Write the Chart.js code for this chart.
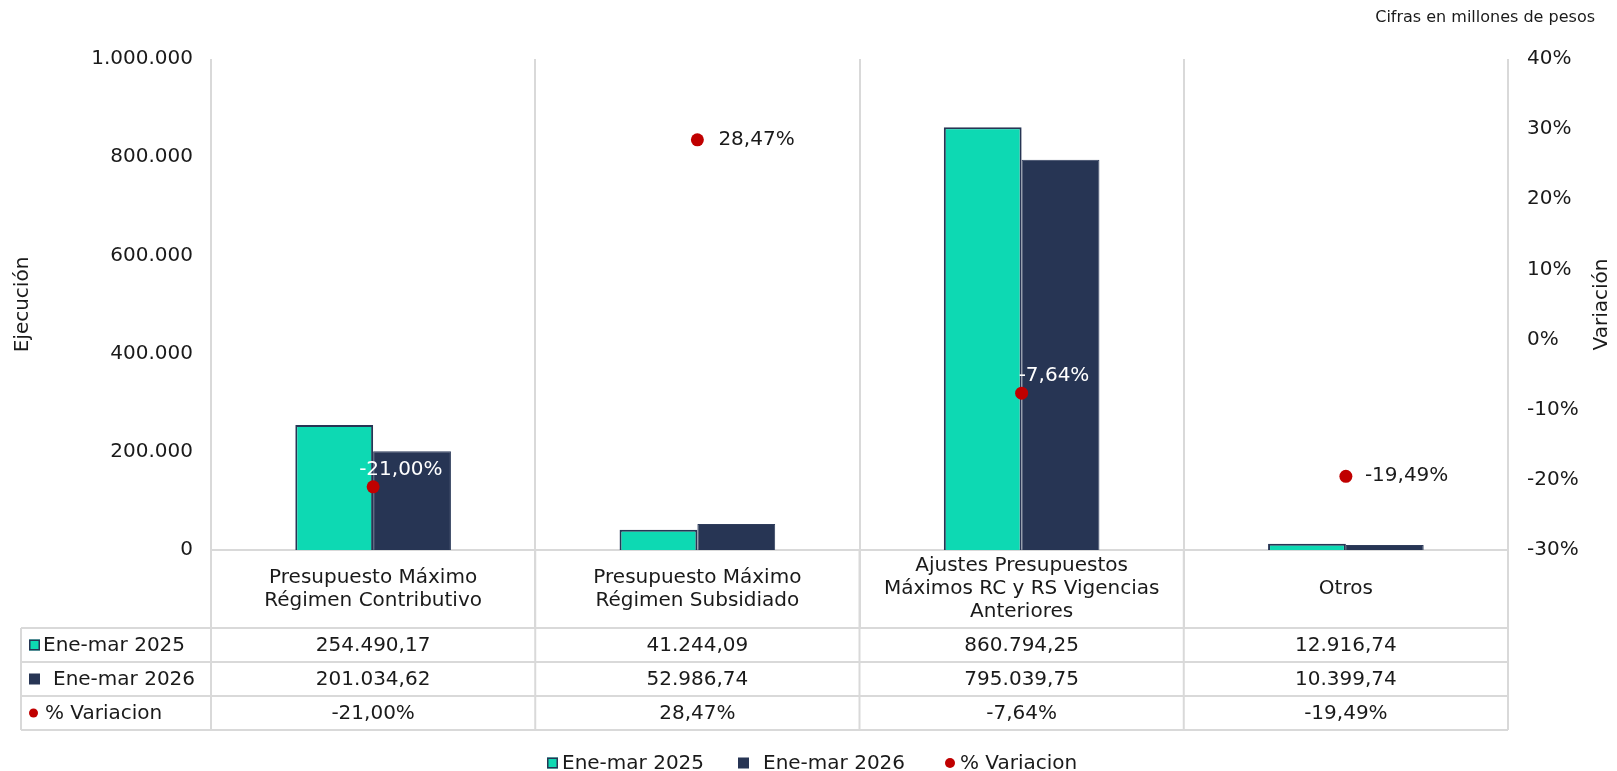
<!DOCTYPE html>
<html lang="es">
  <head>
    <meta charset="UTF-8" />
    <title>Ejecución</title>
    <script src="https://cdn.jsdelivr.net/npm/chart.js"></script>
    <style>
      body { margin: 0; background: #fff; }
      #wrap { width: 1617px; height: 771px; }
    </style>
  </head>
  <body>
    <div id="wrap"><canvas id="grafico" width="1617" height="771"></canvas></div>
    <script>
      // datos
      const categorias = [
        ["Presupuesto Máximo", "Régimen Contributivo"],
        ["Presupuesto Máximo", "Régimen Subsidiado"],
        ["Ajustes Presupuestos", "Máximos RC y RS Vigencias", "Anteriores"],
        ["Otros"],
      ];
      const series = ["Ene-mar 2025", "Ene-mar 2026", "% Variacion"];
      const ejec2025 = [254490.17, 41244.09, 860794.25, 12916.74];
      const ejec2026 = [201034.62, 52986.74, 795039.75, 10399.74];
      const variacion = [-21.0, 28.47, -7.64, -19.49];
      const ticksIzq = [0, 200000, 400000, 600000, 800000, 1000000];
      const ticksDer = [-30, -20, -10, 0, 10, 20, 30, 40];

      const VERDE = "#0DD9B3";
      const AZUL = "#273554";
      const ROJO = "#C00000";
      const GRIS = "#d9d9d9";
      const TEXTO = "#1a1a1a";
      const FUENTE = "'DejaVu Sans', Verdana, sans-serif";

      function miles(v, dec) {
        const partes = Math.abs(v).toFixed(dec).split(".");
        let s = partes[0].replace(/\B(?=(\d{3})+(?!\d))/g, ".");
        if (dec > 0) s += "," + partes[1];
        return (v < 0 ? "-" : "") + s;
      }
      const pct = (v) => miles(v, 2) + "%";

      // etiquetas de los puntos (dx, dy, color)
      const estiloEtiqueta = [
        { dx: -14, dy: -17, color: "#ffffff" },
        { dx: 21, dy: 0, color: TEXTO },
        { dx: -3, dy: -17, color: "#ffffff" },
        { dx: 19, dy: 0, color: TEXTO },
      ];

      const tablaPlugin = {
        id: "tabla",
        afterDatasetsDraw(chart) {
          const ctx = chart.ctx;
          const meta = chart.getDatasetMeta(0);
          ctx.save();
          ctx.font = "20px " + FUENTE;
          ctx.textBaseline = "middle";
          ctx.textAlign = "left";
          meta.data.forEach((pt, i) => {
            const e = estiloEtiqueta[i];
            ctx.fillStyle = e.color;
            ctx.fillText(pct(variacion[i]), pt.x + e.dx, pt.y + e.dy);
          });
          ctx.restore();
        },
        afterDraw(chart) {
          const ctx = chart.ctx;
          const x = chart.scales.x;
          const area = chart.chartArea;
          const medio = (x.getPixelForValue(1) - x.getPixelForValue(0)) / 2;
          const izqTabla = 21;
          const filaAlto = 34;
          const topTabla = 628;

          ctx.save();
          // etiquetas de categorias
          ctx.font = "20px " + FUENTE;
          ctx.fillStyle = TEXTO;
          ctx.textAlign = "center";
          ctx.textBaseline = "middle";
          const centroCat = (area.bottom + topTabla) / 2;
          categorias.forEach((lineas, i) => {
            const cx = x.getPixelForValue(i);
            const h = 23;
            lineas.forEach((l, k) => {
              ctx.fillText(l, cx, centroCat + (k - (lineas.length - 1) / 2) * h);
            });
          });

          // lineas de la tabla
          ctx.strokeStyle = GRIS;
          ctx.lineWidth = 2;
          ctx.beginPath();
          for (let r = 0; r <= 3; r++) {
            const y = topTabla + r * filaAlto;
            ctx.moveTo(izqTabla, y);
            ctx.lineTo(area.right, y);
          }
          ctx.moveTo(izqTabla, topTabla);
          ctx.lineTo(izqTabla, topTabla + 3 * filaAlto);
          for (let i = 0; i <= categorias.length; i++) {
            const bx = x.getPixelForValue(0) - medio + i * 2 * medio;
            ctx.moveTo(bx, area.bottom);
            ctx.lineTo(bx, topTabla + 3 * filaAlto);
          }
          ctx.stroke();

          // valores de la tabla
          const filas = [
            ejec2025.map((v) => miles(v, 2)),
            ejec2026.map((v) => miles(v, 2)),
            variacion.map(pct),
          ];
          filas.forEach((fila, r) => {
            const cy = topTabla + r * filaAlto + filaAlto / 2;
            ctx.fillStyle = TEXTO;
            ctx.textAlign = "center";
            fila.forEach((t, i) => ctx.fillText(t, x.getPixelForValue(i), cy + 1));
          });

          // encabezados de fila
          const marca = (tipo, mx, my, tam) => {
            if (tipo === 0) {
              ctx.fillStyle = VERDE;
              ctx.fillRect(mx, my - tam / 2, tam, tam);
              ctx.strokeStyle = AZUL;
              ctx.lineWidth = 1.5;
              ctx.strokeRect(mx + 0.75, my - tam / 2 + 0.75, tam - 1.5, tam - 1.5);
            } else if (tipo === 1) {
              ctx.fillStyle = AZUL;
              ctx.fillRect(mx, my - tam / 2, tam, tam);
            } else {
              ctx.fillStyle = ROJO;
              ctx.beginPath();
              ctx.arc(mx + tam / 2, my, tam / 2, 0, Math.PI * 2);
              ctx.fill();
            }
          };
          ctx.textAlign = "left";
          const posHeader = [
            { m: 29, t: 43 },
            { m: 29, t: 53 },
            { m: 29, t: 45 },
          ];
          series.forEach((s, r) => {
            const cy = topTabla + r * filaAlto + filaAlto / 2;
            marca(r, posHeader[r].m, cy, r === 2 ? 9 : 11);
            ctx.fillStyle = TEXTO;
            ctx.fillText(s, posHeader[r].t, cy + 1);
          });

          // leyenda
          const posLeyenda = [
            { m: 547, t: 562 },
            { m: 738, t: 763 },
            { m: 945, t: 960 },
          ];
          const yLey = 763;
          series.forEach((s, r) => {
            marca(r, posLeyenda[r].m, yLey, r === 2 ? 10 : 11);
            ctx.fillStyle = TEXTO;
            ctx.fillText(s, posLeyenda[r].t, yLey + 1);
          });

          // titulo eje derecho
          ctx.save();
          ctx.translate(1602, (area.top + area.bottom) / 2);
          ctx.rotate(-Math.PI / 2);
          ctx.textAlign = "center";
          ctx.fillStyle = TEXTO;
          ctx.fillText("Variación", 0, 0);
          ctx.restore();

          // nota
          ctx.font = "16px " + FUENTE;
          ctx.textAlign = "right";
          ctx.fillStyle = TEXTO;
          ctx.fillText("Cifras en millones de pesos", 1595, 18);
          ctx.restore();
        },
      };

      new Chart(document.getElementById("grafico"), {
        data: {
          labels: categorias,
          datasets: [
            {
              type: "line",
              label: series[2],
              data: variacion,
              yAxisID: "y1",
              showLine: false,
              pointRadius: 6.5,
              pointBackgroundColor: ROJO,
              pointBorderWidth: 0,
              order: 0,
            },
            {
              type: "bar",
              label: series[0],
              data: ejec2025,
              yAxisID: "y",
              backgroundColor: VERDE,
              borderColor: AZUL,
              borderWidth: 2,
              order: 1,
            },
            {
              type: "bar",
              label: series[1],
              data: ejec2026,
              yAxisID: "y",
              backgroundColor: AZUL,
              borderColor: "#2f3d5c",
              borderWidth: 1,
              order: 2,
            },
          ],
        },
        options: {
          responsive: false,
          devicePixelRatio: 1,
          animation: false,
          layout: { padding: { top: 59, left: 0, right: 0, bottom: 0 } },
          datasets: {
            bar: { categoryPercentage: 0.48, barPercentage: 1 },
          },
          plugins: {
            legend: { display: false },
            tooltip: { enabled: false },
          },
          scales: {
            x: {
              type: "category",
              offset: true,
              grid: {
                offset: true,
                color: GRIS,
                lineWidth: 2,
                tickLength: 78,
                drawOnChartArea: true,
              },
              border: { color: GRIS, width: 2 },
              ticks: { display: false },
              afterFit(s) {
                s.height = 221;
              },
            },
            y: {
              position: "left",
              min: ticksIzq[0],
              max: ticksIzq[ticksIzq.length - 1],
              afterBuildTicks(s) {
                s.ticks = ticksIzq.map((v) => ({ value: v }));
              },
              ticks: {
                padding: 10,
                color: TEXTO,
                font: { family: FUENTE, size: 20 },
                callback: (v) => miles(v, 0),
              },
              grid: { display: false },
              border: { display: false },
              title: {
                display: true,
                text: "Ejecución",
                color: TEXTO,
                font: { family: FUENTE, size: 20 },
                padding: { top: 11, bottom: 0 },
              },
              afterFit(s) {
                s.width = 211;
              },
            },
            y1: {
              position: "right",
              min: ticksDer[0],
              max: ticksDer[ticksDer.length - 1],
              afterBuildTicks(s) {
                s.ticks = ticksDer.map((v) => ({ value: v }));
              },
              ticks: {
                padding: 11,
                color: TEXTO,
                font: { family: FUENTE, size: 20 },
                callback: (v) => v + "%",
              },
              grid: { display: false },
              border: { display: false },
              afterFit(s) {
                s.width = 109;
              },
            },
          },
        },
        plugins: [tablaPlugin],
      });
    </script>
  </body>
</html>
